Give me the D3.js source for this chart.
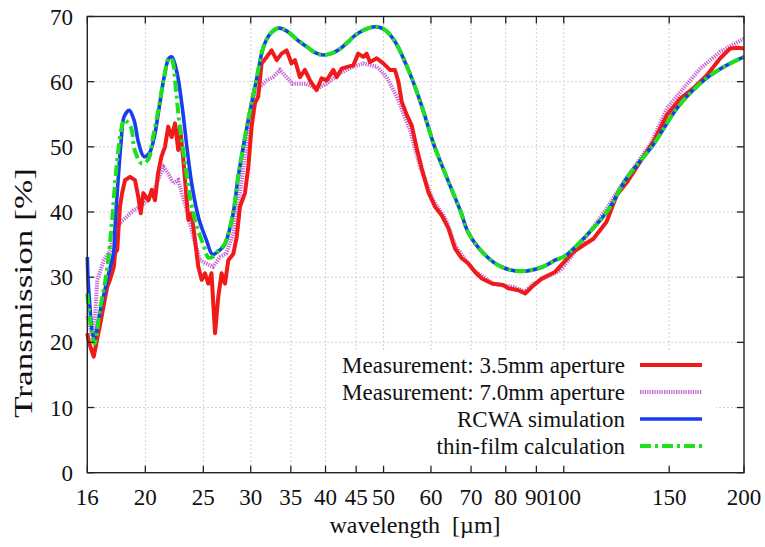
<!DOCTYPE html>
<html>
<head>
<meta charset="utf-8">
<script src="https://cdn.jsdelivr.net/npm/d3@7"></script>
<style>
  html, body { margin: 0; padding: 0; background: #fff; }
  svg { display: block; }
  text { font-family: "Liberation Serif", "DejaVu Serif", serif; fill: #111; }
</style>
</head>
<body>
<svg id="chart" width="765" height="547"></svg>
<script>
// ---- data ----
const xTicks = [16, 20, 25, 30, 35, 40, 45, 50, 60, 70, 80, 90, 100, 150, 200];
const yTicks = [0, 10, 20, 30, 40, 50, 60, 70];

const seriesNames = [
  "Measurement: 3.5mm aperture",
  "Measurement: 7.0mm aperture",
  "RCWA simulation",
  "thin-film calculation"
];

// Measurement 3.5 mm aperture
const m35Wl = [16.0, 16.1, 16.4, 16.83, 17.27, 17.46, 17.72, 17.8, 17.95, 18.14, 18.3, 18.5, 18.86, 19.22, 19.47, 19.65, 19.85, 20.24, 20.5, 20.76, 21.0, 21.28, 21.57, 21.84, 22.13, 22.42, 22.7, 22.85, 23.15, 23.45, 23.6, 23.9, 24.21, 24.52, 24.84, 25.16, 25.48, 25.8, 26.15, 26.48, 26.82, 27.17, 27.52, 28.06, 28.43, 28.78, 29.34, 29.72, 30.1, 30.49, 30.88, 31.28, 31.9, 32.5, 33.15, 33.78, 34.44, 35.1, 35.56, 36.25, 36.95, 37.67, 38.64, 39.4, 40.17, 41.22, 41.76, 42.55, 43.65, 44.5, 45.36, 46.25, 46.85, 47.46, 48.7, 49.95, 51.25, 52.25, 52.93, 53.63, 54.67, 55.72, 56.8, 57.9, 59.38, 60.94, 62.53, 64.17, 65.82, 67.55, 69.27, 71.09, 72.96, 75.99, 79.15, 80.8, 84.0, 86.18, 88.4, 91.9, 96.7, 103.8, 107.8, 112.1, 117.9, 122.6, 127.6, 134.1, 141.2, 148.7, 156.5, 164.7, 173.4, 182.5, 189.7, 195, 200];
const m35T = [21.4, 20, 17.8, 23, 28.5, 29.6, 31.6, 33.7, 34.2, 40.8, 43, 44.9, 45.4, 44.9, 42.3, 39.8, 42.9, 41.8, 43.4, 41.8, 45.9, 48.5, 50, 53.1, 51.5, 53.6, 49.5, 53.1, 48, 41.8, 38.8, 39.8, 35.7, 31.6, 29.6, 30.6, 29, 30.6, 21.4, 27, 30.6, 29, 32.6, 33.6, 36.2, 40.8, 42.9, 46.9, 53.1, 56.7, 57.7, 62.8, 63.8, 64.8, 63.3, 64.3, 64.8, 62.8, 63.3, 60.7, 61.8, 60.2, 58.7, 60.5, 60.2, 61.8, 60.7, 62.0, 62.3, 62.5, 64.3, 63.8, 64.3, 63.0, 63.6, 62.8, 61.8, 61.8, 60.0, 56.9, 54.9, 53.3, 49.8, 46.7, 43.1, 40.8, 39.5, 37.5, 34.4, 32.9, 32.1, 30.8, 29.8, 29.0, 28.8, 28.3, 28.0, 27.5, 28.5, 29.8, 30.8, 33.9, 34.9, 35.9, 38.5, 42.6, 44.6, 47.7, 50.8, 54.9, 57.4, 59.0, 61.0, 63.6, 65.1, 65.2, 65.1];

// Measurement 7.0 mm aperture
const m70Wl = [16.0, 16.3, 16.5, 16.63, 17.05, 17.5, 17.63, 18.14, 18.63, 19.13, 19.6, 20.1, 20.6, 21.0, 21.45, 21.84, 22.26, 22.7, 23.0, 23.45, 24.05, 24.68, 25.3, 25.95, 26.65, 27.3, 28.06, 28.78, 29.5, 30.2, 31.08, 31.9, 32.7, 33.57, 35.2, 37.1, 38.64, 40.17, 42.28, 44.5, 46.25, 48.7, 50.6, 52.6, 55.35, 57.53, 60.5, 63.6, 66.0, 70.6, 76.3, 82.4, 86.18, 89.0, 93.9, 98.6, 106.5, 117.9, 125.8, 139.4, 148.7, 156.5, 169, 182.5, 200];
const m70T = [24, 21, 24.5, 29.6, 32.6, 34.2, 36.2, 38.3, 39.3, 40.3, 40.8, 41.8, 42.9, 44.9, 46.9, 45.9, 44.4, 44.9, 42.9, 40.3, 36.2, 32.6, 32.1, 31.6, 33.1, 33.6, 36.7, 42.9, 50, 56.7, 59.2, 60.2, 60.7, 61.8, 59.7, 59.7, 58.9, 59.7, 61.3, 62.3, 62.8, 62.3, 60.7, 57.7, 52.6, 46.9, 41.8, 38.8, 34.7, 31.1, 29.0, 28.5, 27.8, 29.0, 30.1, 31.0, 34.9, 40.5, 44.6, 50.3, 55.9, 58.4, 62.0, 64.6, 66.6];

// RCWA simulation
const rcwaWl = [16.0, 16.1, 16.42, 16.83, 17.27, 17.72, 17.8, 18.0, 18.23, 18.43, 18.8, 19.15, 19.5, 19.9, 20.3, 20.7, 21.1, 21.5, 21.9, 22.15, 22.6, 23.05, 23.5, 23.95, 24.6, 25.3, 25.9, 26.5, 27.1, 28.0, 28.6, 29.6, 30.7, 31.5, 32.3, 33.3, 34.1, 34.9, 36, 37.3, 38.5, 39.6, 40.8, 41.9, 43.5, 44.8, 46.5, 48.0, 49.0, 50.5, 52.3, 54.9, 57.6, 60.7, 63.5, 67.3, 69.3, 73.9, 78.6, 85.1, 92.3, 96.7, 100.3, 106.5, 118, 127.4, 141, 156, 173, 187, 200];
const rcwaT = [33.1, 27.5, 20.6, 25, 29.6, 34.1, 37.7, 44.5, 51, 54.6, 55.6, 54.1, 50.5, 48.5, 49, 51.5, 56.1, 60.7, 63.6, 63.8, 61.3, 56.1, 49.5, 43.9, 38.8, 35.7, 33.5, 34, 34.9, 39.5, 45.5, 53.3, 60.5, 65.3, 67.3, 68.2, 68.0, 67.4, 66.3, 65.3, 64.4, 64.1, 64.3, 64.8, 66, 67.1, 68, 68.4, 68.4, 67.8, 66.1, 62.0, 56.9, 50.3, 45.7, 40.0, 36.8, 33.4, 31.6, 30.9, 31.6, 32.6, 33.2, 35.4, 40.0, 45.2, 50.3, 56.4, 60.5, 62.5, 63.8];

// thin-film calculation
const thinWl = [16.0, 16.2, 16.45, 16.8, 17.25, 17.6, 17.9, 18.23, 18.43, 18.9, 19.2, 19.7, 20.2, 20.6, 21.1, 21.5, 21.9, 22.15, 22.5, 22.8, 23.35, 23.8, 24.4, 25.0, 25.5, 26.0, 26.5, 27.1, 28.0, 28.6, 29.6, 30.7, 31.5, 32.3, 33.3, 34.1, 34.9, 36, 37.3, 38.5, 39.6, 40.8, 41.9, 43.5, 44.8, 46.5, 48.0, 49.0, 50.5, 52.3, 54.9, 57.6, 60.7, 63.5, 67.3, 69.3, 73.9, 78.6, 85.1, 92.3, 96.7, 100.3, 106.5, 118, 127.4, 141, 156, 173, 187, 200];
const thinT = [27.5, 23, 19.8, 25, 31, 38.8, 46.9, 52.6, 54.1, 53.1, 49.5, 47.5, 48, 51.5, 56.4, 60.7, 63.6, 63.4, 58.7, 53.6, 46.9, 41.8, 37.7, 35, 33, 33.2, 34.1, 35.0, 39.6, 45.6, 53.4, 60.6, 65.3, 67.3, 68.2, 68.0, 67.4, 66.3, 65.3, 64.4, 64.1, 64.3, 64.8, 66, 67.1, 68, 68.4, 68.4, 67.8, 66.1, 62.0, 56.9, 50.3, 45.7, 40.0, 36.8, 33.4, 31.6, 30.9, 31.6, 32.6, 33.2, 35.4, 40.0, 45.2, 50.3, 56.4, 60.5, 62.5, 63.8];

// ---- chart ----
const svg = d3.select("#chart");
const L = 87.3, R = 744, T = 16.5, B = 472.7;

const x = d3.scaleLog().domain([16, 200]).range([L, R]);
const y = d3.scaleLinear().domain([0, 70]).range([B, T]);

const zip = (a, b) => a.map((v, i) => [v, b[i]]);

// grid
const grid = svg.append("g").attr("stroke", "#c4c4c4").attr("stroke-width", 1)
  .attr("stroke-dasharray", "1.5,2.5");
grid.selectAll("line.v").data(xTicks.filter(d => d !== 16 && d !== 200)).join("line")
  .attr("x1", d => x(d)).attr("x2", d => x(d)).attr("y1", T).attr("y2", B);
grid.selectAll("line.h").data(yTicks.filter(d => d !== 0 && d !== 70)).join("line")
  .attr("x1", L).attr("x2", R).attr("y1", d => y(d)).attr("y2", d => y(d));

// opaque legend box
svg.append("rect").attr("x", 326).attr("y", 350).attr("width", 390).attr("height", B - 350 - 1)
  .attr("fill", "#fff");

// lines
const line = d3.line().x(d => x(d[0])).y(d => y(d[1]));
const smooth = d3.line().x(d => x(d[0])).y(d => y(d[1])).curve(d3.curveCatmullRom.alpha(0.5));

const styles = [
  { stroke: "#c464d4", width: 4, dash: "1.3,1.1" },
  { stroke: "#f01a1a", width: 4, dash: null },
  { stroke: "#1a3cf0", width: 3.6, dash: null },
  { stroke: "#1ee01e", width: 4, dash: "11,4,3,4" }
];

const plot = svg.append("g");
plot.append("path").datum(zip(m70Wl, m70T)).attr("d", line)
  .attr("fill", "none").attr("stroke", styles[0].stroke).attr("stroke-width", styles[0].width)
  .attr("stroke-dasharray", styles[0].dash);
plot.append("path").datum(zip(m35Wl, m35T)).attr("d", line)
  .attr("fill", "none").attr("stroke", styles[1].stroke).attr("stroke-width", styles[1].width)
  .attr("stroke-linejoin", "round");
plot.append("path").datum(zip(rcwaWl, rcwaT)).attr("d", smooth)
  .attr("fill", "none").attr("stroke", styles[2].stroke).attr("stroke-width", styles[2].width);
plot.append("path").datum(zip(thinWl, thinT)).attr("d", smooth)
  .attr("fill", "none").attr("stroke", styles[3].stroke).attr("stroke-width", styles[3].width)
  .attr("stroke-dasharray", styles[3].dash);

// border
svg.append("rect").attr("x", L).attr("y", T).attr("width", R - L).attr("height", B - T)
  .attr("fill", "none").attr("stroke", "#222").attr("stroke-width", 1.4);

// ticks (inward, mirrored)
const tk = svg.append("g").attr("stroke", "#222").attr("stroke-width", 1.3);
const tl = 7;
xTicks.forEach(v => {
  tk.append("line").attr("x1", x(v)).attr("x2", x(v)).attr("y1", B).attr("y2", B - tl);
  tk.append("line").attr("x1", x(v)).attr("x2", x(v)).attr("y1", T).attr("y2", T + tl);
});
yTicks.forEach(v => {
  tk.append("line").attr("x1", L).attr("x2", L + tl).attr("y1", y(v)).attr("y2", y(v));
  tk.append("line").attr("x1", R).attr("x2", R - tl).attr("y1", y(v)).attr("y2", y(v));
});

// tick labels
svg.append("g").selectAll("text").data(xTicks).join("text")
  .attr("x", d => x(d)).attr("y", 505).attr("text-anchor", "middle")
  .attr("font-size", 23).text(d => d);
svg.append("g").selectAll("text").data(yTicks).join("text")
  .attr("x", 73).attr("y", d => y(d) + 8).attr("text-anchor", "end")
  .attr("font-size", 23).text(d => d);

// axis titles
svg.append("text").attr("x", 415).attr("y", 533).attr("text-anchor", "middle")
  .attr("font-size", 24).attr("xml:space", "preserve").text("wavelength  [\u00b5m]");
svg.append("text").attr("transform", "translate(32,293) rotate(-90)")
  .attr("text-anchor", "middle").attr("font-size", 26)
  .attr("textLength", 250).attr("lengthAdjust", "spacingAndGlyphs")
  .text("Transmission [%]");

// legend
const legY = [365, 392, 419, 446];
const legOrder = [1, 0, 2, 3];
seriesNames.forEach((name, i) => {
  const s = styles[legOrder[i]];
  svg.append("text").attr("x", 625).attr("y", legY[i] + 8).attr("text-anchor", "end")
    .attr("font-size", 23).text(name);
  svg.append("line").attr("x1", 640).attr("x2", 702).attr("y1", legY[i]).attr("y2", legY[i])
    .attr("stroke", s.stroke).attr("stroke-width", s.width)
    .attr("stroke-dasharray", s.dash);
});
</script>
</body>
</html>
